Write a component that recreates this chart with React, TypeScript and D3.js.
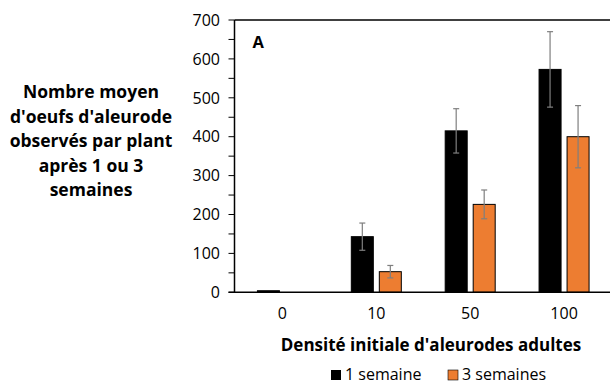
import React from "react";
import * as d3 from "d3";

const categories = ["0", "10", "50", "100"];
const seriesNames = ["1 semaine", "3 semaines"];
const week1 = [4, 143, 415, 573];
const week3 = [0, 53, 226, 400];
const week1Err = [0, 35, 57, 97];
const week3Err = [0, 16, 37, 80];
const yTicks = [0, 100, 200, 300, 400, 500, 600, 700];
const yMinorTicks = [50, 150, 250, 350, 450, 550, 650];
const colors = ["#000000", "#ED7D31"];
const yLabelLines = [
  "Nombre moyen",
  "d'oeufs d'aleurode",
  "observés par plant",
  "après 1 ou 3",
  "semaines",
];

const W = 610;
const H = 385;
const left = 234.5;
const right = 611;
const top = 20;
const bottom = 292.3;
const font = "'Open Sans', sans-serif";

export default function App() {
  const x = d3.scaleBand().domain(categories).range([left + 1, right]).paddingInner(0).paddingOuter(0);
  const y = d3.scaleLinear().domain([0, 700]).range([bottom, top]);
  const barW = 22;
  const gap = 6;
  const series = [week1, week3];
  const errs = [week1Err, week3Err];

  return (
    <svg width={W} height={H} style={{ position: "absolute", left: 0, top: 0, background: "#fff" }}>
      {/* Frame */}
      <line x1={left} x2={right} y1={top} y2={top} stroke="#000" strokeWidth={1.5} />
      <line x1={left} x2={left} y1={top} y2={bottom} stroke="#000" strokeWidth={1.5} />

      {/* Y ticks */}
      {yTicks.concat(yMinorTicks).map((t) => (
        <line key={"t" + t} x1={left - 6} x2={left} y1={y(t)} y2={y(t)} stroke="#000" strokeWidth={1} />
      ))}
      {yTicks.map((t) => (
        <text key={"l" + t} x={220} y={y(t)} dy="0.36em" textAnchor="end" fontFamily={font} fontSize={16} fill="#000">
          {t}
        </text>
      ))}

      {/* Bars */}
      {categories.map((c, i) => {
        const cx = (x(c) as number) + x.bandwidth() / 2;
        return series.map((s, k) => {
          const bx = k === 0 ? cx - gap / 2 - barW : cx + gap / 2;
          const v = s[i];
          if (v <= 0) return null;
          const e = errs[k][i];
          const mid = bx + barW / 2;
          return (
            <g key={c + k}>
              <rect
                x={bx}
                y={y(v)}
                width={barW}
                height={bottom - y(v)}
                fill={colors[k]}
                stroke="#000"
                strokeWidth={1}
              />
              {e > 0 && (
                <g stroke="#7f7f7f" strokeWidth={1.2}>
                  <line x1={mid} x2={mid} y1={y(v + e)} y2={y(v - e)} />
                  <line x1={mid - 3} x2={mid + 3} y1={y(v + e)} y2={y(v + e)} />
                  <line x1={mid - 3} x2={mid + 3} y1={y(v - e)} y2={y(v - e)} />
                </g>
              )}
            </g>
          );
        });
      })}

      {/* X axis */}
      <line x1={left - 6} x2={right} y1={bottom} y2={bottom} stroke="#000" strokeWidth={1.5} />
      {categories.map((c) => (
        <text
          key={"x" + c}
          x={(x(c) as number) + x.bandwidth() / 2}
          y={313}
          dy="0.36em"
          textAnchor="middle"
          fontFamily={font}
          fontSize={16}
          fill="#000"
        >
          {c}
        </text>
      ))}

      <text x={252.5} y={42} dy="0.36em" fontFamily={font} fontSize={16.5} fontWeight="bold" fill="#000">
        A
      </text>

      {/* Axis titles */}
      <text x={431} y={345} dy="0.36em" textAnchor="middle" fontFamily={font} fontSize={17} fontWeight="bold" fill="#000">
        Densité initiale d'aleurodes adultes
      </text>
      {yLabelLines.map((l, i) => (
        <text
          key={l}
          x={91}
          y={92 + i * 24.5}
          dy="0.36em"
          textAnchor="middle"
          fontFamily={font}
          fontSize={17.5}
          fontWeight="bold"
          fill="#000"
        >
          {l}
        </text>
      ))}

      {/* Legend */}
      {seriesNames.map((n, k) => {
        const lx = k === 0 ? 331 : 448;
        return (
          <g key={n}>
            <rect x={lx} y={370} width={10} height={10} fill={colors[k]} stroke={k === 1 ? "#000" : "none"} strokeWidth={0.6} />
            <text x={lx + 14} y={374} dy="0.36em" fontFamily={font} fontSize={16} fill="#000">
              {n}
            </text>
          </g>
        );
      })}
    </svg>
  );
}
